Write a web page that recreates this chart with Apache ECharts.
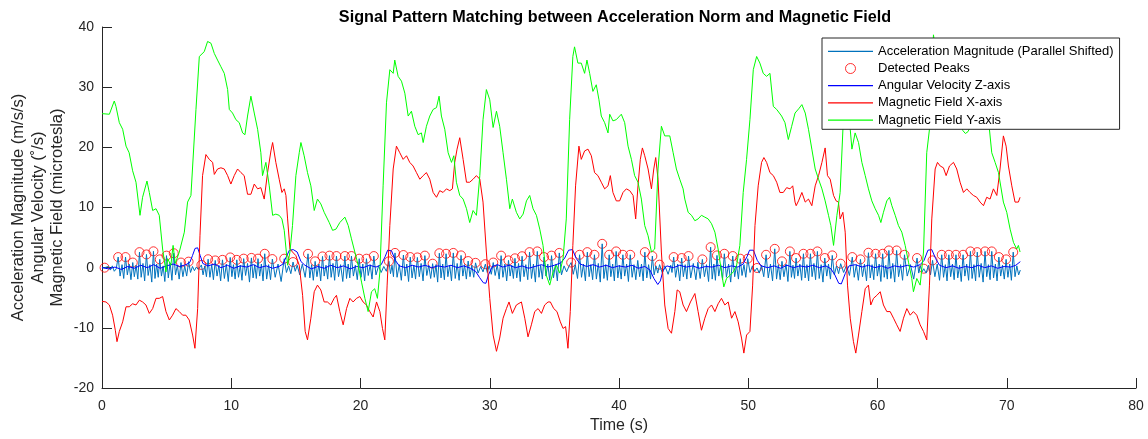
<!DOCTYPE html>
<html>
<head>
<meta charset="utf-8">
<script src="https://cdn.jsdelivr.net/npm/echarts@6/dist/echarts.min.js"></script>
<style>html,body{margin:0;padding:0;background:#fff;}#c{width:1148px;height:439px;}</style>
</head>
<body>
<div id="c"></div>
<script>
const titleText = 'Signal Pattern Matching between Acceleration Norm and Magnetic Field';
const seriesNames = ['Acceleration Magnitude (Parallel Shifted)', 'Detected Peaks', 'Angular Velocity Z-axis', 'Magnetic Field X-axis', 'Magnetic Field Y-axis'];
const xName = 'Time (s)';
const yName = 'Acceleration Magnitude (m/s/s)\nAngular Velocity (\u02DA/s)\nMagnetic Field (microtesla)';

const peaks = [
[0.2,0.0],[1.25,1.76],[1.82,1.76],[2.38,0.85],[2.9,2.58],[3.44,2.2],[3.98,2.72],[4.47,1.38],[4.99,2.0],[5.55,2.4],[6.11,0.85],[6.7,1.0],[7.69,0.45],[8.21,1.4],[8.76,1.2],[9.32,1.3],[9.92,1.7],[10.43,1.3],[10.96,1.5],[11.56,1.62],[12.07,1.5],[12.59,2.31],[13.18,1.43],[14.1,1.49],[14.78,0.93],[15.94,2.3],[16.49,1.05],[17.06,1.87],[17.6,2.0],[18.14,1.93],[18.79,1.93],[19.3,1.93],[19.9,1.49],[20.46,1.49],[21.03,1.93],[22.2,1.05],[22.67,2.45],[23.32,2.1],[23.85,1.76],[24.4,1.7],[24.98,2.0],[25.58,0.66],[26.1,2.4],[26.62,2.31],[27.18,2.45],[27.78,2.04],[28.33,1.1],[28.9,0.8],[29.66,0.58],[30.27,0.85],[30.88,2.0],[31.45,1.21],[31.95,1.55],[32.5,1.9],[33.08,2.58],[33.68,2.7],[34.2,1.76],[34.78,2.0],[35.38,2.45],[36.3,0.85],[36.95,2.14],[37.55,2.58],[38.1,2.14],[38.7,3.96],[39.24,2.14],[39.78,2.7],[40.3,2.14],[40.87,2.14],[42.0,2.58],[42.58,1.93],[43.14,0.5],[44.23,1.76],[44.85,1.6],[45.38,1.93],[46.45,1.38],[47.09,3.41],[47.58,2.04],[48.15,2.31],[48.8,1.93],[49.38,1.49],[49.96,1.49],[50.68,-0.05],[51.38,2.14],[52.05,3.13],[52.61,1.05],[53.22,2.7],[53.7,1.6],[54.27,2.31],[54.81,2.31],[55.35,2.7],[55.92,1.6],[56.5,2.04],[57.15,0.66],[58.05,1.76],[58.68,1.38],[59.3,2.48],[59.85,2.31],[60.4,2.31],[60.88,2.86],[61.48,2.86],[62.09,2.14],[63.06,1.6],[63.58,-0.17],[64.26,1.21],[64.97,2.14],[65.52,2.14],[66.07,2.14],[66.62,2.14],[67.19,2.7],[67.72,2.58],[68.32,2.7],[68.84,2.7],[69.39,1.76],[69.95,1.38],[70.5,2.58]
];

const accel = [
[0,0],[0.2,0],[0.35,-0.3],[0.5,0.2],[0.65,-0.4],[0.8,0.3],[0.95,-0.6],[1.1,-0.2],
[1.25,1.76],[1.4,-1.4],[1.55,0.5],[1.68,-1.8],[1.82,1.76],[1.96,-1.2],[2.1,0.6],[2.24,-2.0],
[2.38,0.85],[2.5,-1.5],[2.64,0.4],[2.77,-1.9],[2.9,2.58],[3.03,-1.6],[3.17,0.7],[3.3,-2.2],
[3.44,2.2],[3.57,-1.3],[3.71,0.5],[3.85,-2.4],[3.98,2.72],[4.1,-1.8],[4.23,0.6],[4.35,-1.6],
[4.47,1.38],[4.6,-1.4],[4.73,0.3],[4.86,-2.3],[4.99,2.0],[5.13,-1.7],[5.27,0.8],[5.41,-2.1],
[5.55,2.4],[5.69,-1.2],[5.83,0.4],[5.97,-1.9],[6.11,0.85],[6.26,-1.5],[6.4,0.3],[6.55,-1.4],
[6.7,1.0],[6.85,-0.8],[7.0,0.2],[7.15,-0.5],[7.3,0.1],[7.45,-0.3],[7.58,-0.6],
[7.69,0.45],[7.82,-1.2],[7.95,0.3],[8.08,-1.5],[8.21,1.4],[8.35,-1.6],[8.49,0.5],[8.62,-2.0],
[8.76,1.2],[8.9,-1.4],[9.04,0.4],[9.18,-2.2],[9.32,1.3],[9.47,-1.8],[9.62,0.6],[9.77,-2.3],
[9.92,1.7],[10.05,-1.5],[10.17,0.5],[10.3,-1.9],[10.43,1.3],[10.56,-1.6],[10.7,0.4],[10.83,-2.1],
[10.96,1.5],[11.11,-1.3],[11.26,0.7],[11.41,-2.4],[11.56,1.62],[11.69,-1.7],[11.82,0.5],[11.94,-1.8],
[12.07,1.5],[12.2,-1.4],[12.33,0.6],[12.46,-2.2],[12.59,2.31],[12.74,-1.9],[12.89,0.5],[13.04,-2.0],
[13.18,1.43],[13.4,-1.6],[13.62,0.6],[13.86,-2.3],[14.1,1.49],[14.27,-0.8],[14.44,0.3],[14.61,-1.0],
[14.78,0.93],[14.95,-0.6],[15.1,0.4],[15.3,-1.2],[15.5,0.6],[15.72,-1.6],
[15.94,2.3],[16.08,-1.7],[16.22,0.5],[16.35,-2.1],[16.49,1.05],[16.63,-1.5],[16.78,0.6],[16.92,-2.2],
[17.06,1.87],[17.19,-1.4],[17.33,0.4],[17.46,-1.9],[17.6,2.0],[17.73,-1.6],[17.87,0.7],[18.0,-2.1],
[18.14,1.93],[18.3,-1.5],[18.46,0.5],[18.63,-2.3],[18.79,1.93],[18.92,-1.8],[19.05,0.6],[19.17,-1.7],
[19.3,1.93],[19.45,-1.4],[19.6,0.4],[19.75,-2.0],[19.9,1.49],[20.04,-1.6],[20.18,0.6],[20.32,-2.2],
[20.46,1.49],[20.6,-1.3],[20.75,0.5],[20.89,-1.9],[21.03,1.93],[21.2,-1.2],[21.4,0.3],[21.6,-0.8],[21.8,0.2],[22.0,-0.6],
[22.2,1.05],[22.32,-1.0],[22.44,0.4],[22.55,-1.5],[22.67,2.45],[22.83,-1.6],[23.0,0.5],[23.16,-2.1],
[23.32,2.1],[23.45,-1.4],[23.58,0.6],[23.72,-2.3],[23.85,1.76],[23.99,-1.7],[24.13,0.4],[24.26,-1.9],
[24.4,1.7],[24.55,-1.5],[24.69,0.7],[24.84,-2.2],[24.98,2.0],[25.13,-1.3],[25.28,0.4],[25.43,-1.8],
[25.58,0.66],[25.71,-1.6],[25.84,0.5],[25.97,-2.4],[26.1,2.4],[26.23,-1.7],[26.36,0.6],[26.49,-2.0],
[26.62,2.31],[26.76,-1.5],[26.9,0.4],[27.04,-2.2],[27.18,2.45],[27.33,-1.8],[27.48,0.7],[27.63,-2.1],
[27.78,2.04],[27.92,-1.4],[28.05,0.5],[28.19,-1.9],[28.33,1.1],[28.47,-1.5],[28.61,0.4],[28.76,-1.6],
[28.9,0.8],[29.1,-0.9],[29.3,0.2],[29.48,-0.7],[29.66,0.58],[29.81,-0.8],[29.96,0.3],[30.12,-1.1],
[30.27,0.85],[30.42,-1.3],[30.58,0.5],[30.73,-1.9],[30.88,2.0],[31.02,-1.6],[31.17,0.6],[31.31,-2.2],
[31.45,1.21],[31.58,-1.4],[31.7,0.4],[31.83,-1.8],[31.95,1.55],[32.09,-1.7],[32.23,0.7],[32.36,-2.3],
[32.5,1.9],[32.65,-1.5],[32.79,0.5],[32.94,-2.0],[33.08,2.58],[33.23,-1.8],[33.38,0.6],[33.53,-2.4],
[33.68,2.7],[33.81,-1.6],[33.94,0.4],[34.07,-1.9],[34.2,1.76],[34.35,-1.4],[34.49,0.6],[34.64,-2.1],
[34.78,2.0],[34.93,-1.7],[35.08,0.5],[35.23,-2.2],[35.38,2.45],[35.55,-1.2],[35.75,0.3],[35.95,-0.7],[36.12,0.2],
[36.3,0.85],[36.46,-1.1],[36.62,0.5],[36.79,-1.8],[36.95,2.14],[37.1,-1.6],[37.25,0.6],[37.4,-2.2],
[37.55,2.58],[37.69,-1.5],[37.82,0.5],[37.96,-2.0],[38.1,2.14],[38.25,-1.9],[38.4,0.7],[38.55,-2.4],
[38.7,3.96],[38.83,-1.8],[38.97,0.5],[39.1,-2.1],[39.24,2.14],[39.37,-1.5],[39.51,0.6],[39.64,-2.2],
[39.78,2.7],[39.91,-1.7],[40.04,0.4],[40.17,-1.9],[40.3,2.14],[40.44,-1.4],[40.59,0.6],[40.73,-2.3],
[40.87,2.14],[41.02,-1.6],[41.16,0.5],[41.3,-2.0],[41.45,1.2],[41.6,-1.5],[41.74,0.6],[41.87,-2.2],
[42.0,2.58],[42.15,-1.7],[42.29,0.5],[42.44,-1.9],[42.58,1.93],[42.72,-1.2],[42.86,0.3],[43.0,-0.9],
[43.14,0.5],[43.35,-0.9],[43.55,0.3],[43.8,-1.1],[44.0,0.4],[44.1,-0.8],
[44.23,1.76],[44.38,-1.6],[44.54,0.6],[44.7,-2.2],[44.85,1.6],[44.98,-1.5],[45.12,0.5],[45.25,-1.9],
[45.38,1.93],[45.55,-1.7],[45.75,0.7],[45.95,-2.0],[46.1,0.9],[46.28,-1.8],
[46.45,1.38],[46.61,-1.5],[46.77,0.5],[46.93,-2.3],[47.09,3.41],[47.21,-1.9],[47.34,0.6],[47.46,-2.1],
[47.58,2.04],[47.72,-1.4],[47.87,0.5],[48.01,-2.0],[48.15,2.31],[48.31,-1.6],[48.48,0.6],[48.64,-2.4],
[48.8,1.93],[48.95,-1.5],[49.09,0.4],[49.24,-1.9],[49.38,1.49],[49.52,-1.3],[49.67,0.5],[49.81,-1.6],
[49.96,1.49],[50.14,-0.8],[50.32,0.3],[50.5,-0.6],[50.68,-0.05],[50.85,-0.9],[51.03,0.4],[51.2,-1.5],
[51.38,2.14],[51.55,-1.7],[51.72,0.6],[51.88,-2.2],[52.05,3.13],[52.19,-1.9],[52.33,0.5],[52.47,-2.0],
[52.61,1.05],[52.76,-1.5],[52.92,0.6],[53.07,-2.3],[53.22,2.7],[53.34,-1.6],[53.46,0.4],[53.58,-1.8],
[53.7,1.6],[53.84,-1.4],[53.99,0.6],[54.13,-2.1],[54.27,2.31],[54.4,-1.7],[54.54,0.5],[54.67,-2.2],
[54.81,2.31],[54.94,-1.5],[55.08,0.7],[55.21,-2.0],[55.35,2.7],[55.49,-1.8],[55.64,0.5],[55.78,-2.4],
[55.92,1.6],[56.07,-1.4],[56.21,0.6],[56.36,-1.9],[56.5,2.04],[56.66,-1.2],[56.83,0.3],[56.99,-1.0],
[57.15,0.66],[57.38,-0.8],[57.6,0.4],[57.83,-1.3],[58.05,1.76],[58.2,-1.6],[58.36,0.5],[58.52,-2.1],
[58.68,1.38],[58.84,-1.5],[58.99,0.6],[59.15,-2.2],[59.3,2.48],[59.44,-1.7],[59.58,0.5],[59.71,-2.0],
[59.85,2.31],[59.99,-1.4],[60.13,0.6],[60.26,-2.3],[60.4,2.31],[60.52,-1.6],[60.64,0.4],[60.76,-1.9],
[60.88,2.86],[61.03,-1.8],[61.18,0.7],[61.33,-2.4],[61.48,2.86],[61.63,-1.5],[61.79,0.5],[61.94,-2.1],
[62.09,2.14],[62.3,-1.4],[62.55,0.5],[62.8,-1.9],[63.06,1.6],[63.19,-0.9],[63.32,0.3],[63.45,-0.7],
[63.58,-0.17],[63.76,-0.9],[63.94,0.4],[64.1,-1.2],[64.26,1.21],[64.44,-1.5],[64.62,0.6],[64.8,-2.1],
[64.97,2.14],[65.11,-1.6],[65.25,0.5],[65.38,-2.2],[65.52,2.14],[65.66,-1.5],[65.8,0.6],[65.93,-2.0],
[66.07,2.14],[66.21,-1.7],[66.35,0.4],[66.48,-2.3],[66.62,2.14],[66.76,-1.4],[66.9,0.6],[67.05,-2.1],
[67.19,2.7],[67.32,-1.8],[67.46,0.5],[67.59,-2.2],[67.72,2.58],[67.87,-1.6],[68.02,0.7],[68.17,-2.4],
[68.32,2.7],[68.45,-1.5],[68.58,0.5],[68.71,-2.0],[68.84,2.7],[68.98,-1.7],[69.12,0.6],[69.25,-2.2],
[69.39,1.76],[69.53,-1.4],[69.67,0.4],[69.81,-1.9],[69.95,1.38],[70.09,-1.6],[70.23,0.6],[70.36,-2.1],
[70.5,2.58],[70.64,-1.5],[70.78,0.3],[70.92,-1.2],[71.05,-0.4]
];

const gyroZ = [
[0,0],[0.5,-0.2],[1,0.1],[1.5,-0.3],[2,0.2],[2.5,-0.1],[3,0.4],[3.5,0],[4,0.5],[4.5,-0.1],[5,0.3],[5.5,0.6],[6,0.2],[6.5,0.5],[6.8,0.9],[7.0,2.0],[7.2,3.2],[7.4,3.3],[7.6,2.0],[7.8,0.7],[8.2,0.3],[8.7,0.6],[9.2,0],[9.7,0.4],[10.2,-0.1],[10.7,0.3],[11.2,0.1],[11.7,0.5],[12.2,0],[12.7,0.3],[13.2,-0.1],[13.7,0.2],[14.0,0.6],[14.3,2.0],[14.5,2.9],[14.8,3.0],[15.1,2.6],[15.4,1.0],[15.7,0.4],[16.2,-0.2],[16.7,0.2],[17.2,-0.1],[17.7,0.4],[18.2,0],[18.7,0.3],[19.2,-0.2],[19.7,0.2],[20.2,0],[20.7,0.4],[21.2,0.1],[21.6,0.5],[21.9,1.8],[22.1,2.9],[22.4,2.8],[22.7,1.2],[23.0,0.3],[23.5,0],[24,0.4],[24.5,0.1],[25,0.4],[25.5,0],[26,0.3],[26.5,0.1],[27,0.4],[27.5,0],[28,0.3],[28.5,-0.1],[28.9,-0.6],[29.2,-1.6],[29.5,-2.5],[29.7,-2.6],[29.9,-1.2],[30.2,0.2],[30.6,0.5],[31,0.1],[31.5,0.4],[32,0],[32.5,0.3],[33,-0.1],[33.5,0.2],[34,0.5],[34.5,0.1],[35,0.4],[35.5,0.8],[35.8,1.6],[36.1,2.9],[36.4,3.0],[36.7,1.5],[37,0.6],[37.5,0.2],[38,0.5],[38.5,0.1],[39,0.4],[39.5,0],[40,0.3],[40.5,0.1],[41,0.4],[41.5,-0.1],[42,0.2],[42.4,-0.4],[42.7,-1.8],[43.0,-2.8],[43.2,-2.2],[43.4,-0.5],[43.7,0.3],[44.2,0],[44.7,0.4],[45.2,0.1],[45.7,0.3],[46.2,-0.1],[46.7,0.2],[47.2,0.1],[47.7,0.4],[48.2,0],[48.7,0.3],[49.2,0.1],[49.6,0.6],[49.9,1.8],[50.1,2.9],[50.4,2.9],[50.7,1.2],[51,0.3],[51.5,0],[52,0.3],[52.5,-0.1],[53,0.4],[53.5,0],[54,0.3],[54.5,0.1],[55,0.4],[55.5,0],[56,0.3],[56.4,-0.2],[56.7,-1.2],[57,-2.6],[57.2,-2.7],[57.5,-1],[57.8,0.3],[58.3,0.5],[58.8,0.1],[59.3,0.4],[59.8,0],[60.3,0.3],[60.8,-0.1],[61.3,0.3],[61.8,0.1],[62.3,0.4],[62.8,0.1],[63.3,0.5],[63.6,1.2],[63.9,2.9],[64.2,3.0],[64.5,1.5],[64.8,0.4],[65.3,0],[65.8,0.3],[66.3,-0.1],[66.8,0.2],[67.3,0],[67.8,0.4],[68.3,0],[68.8,0.3],[69.3,-0.1],[69.8,0.2],[70.3,0.1],[70.7,0.4],[71.05,1.0]
];

const magX = [
[0,-5.6],[0.31,-5.7],[0.57,-6.2],[0.82,-7.9],[1.03,-10.4],[1.16,-12.3],[1.34,-10.6],[1.6,-9],[1.86,-6.5],[2.11,-6.5],[2.37,-6],[2.63,-6.2],[2.89,-5.4],[3.14,-5.7],[3.4,-6.2],[3.66,-7.6],[3.92,-6.8],[4.18,-5.1],[4.43,-5.1],[4.69,-4.8],[4.95,-7.3],[5.21,-8.7],[5.46,-7.9],[5.72,-6.8],[5.98,-7.3],[6.24,-7.9],[6.49,-7.9],[6.75,-8.7],[7.01,-11.2],[7.19,-13.4],[7.4,-6.8],[7.58,5.3],[7.78,15.3],[8.04,18.8],[8.3,18],[8.56,17.5],[8.69,15.5],[8.94,16.4],[9.2,16.6],[9.46,16.4],[9.72,15.3],[9.97,13.9],[10.23,15.3],[10.49,16.4],[10.75,15.8],[11,15.3],[11.26,12.2],[11.52,12.2],[11.78,13.9],[12.04,13.1],[12.29,13.3],[12.55,11.4],[12.81,15.8],[13.07,19.4],[13.2,20.8],[13.45,17.5],[13.71,14.7],[13.92,12.5],[14.1,13.1],[14.23,12],[14.36,8.1],[14.54,3.1],[14.74,2.6],[15,2],[15.26,0.4],[15.52,-4.6],[15.72,-10.6],[15.9,-12],[16.16,-8.4],[16.42,-4],[16.67,-2.9],[16.93,-3.7],[17.19,-5.7],[17.44,-5.7],[17.7,-6.2],[17.96,-5.1],[18.14,-4.6],[18.4,-7.3],[18.66,-9.5],[18.92,-6.8],[19.18,-5.1],[19.43,-5.7],[19.69,-5.1],[19.95,-4.8],[20.2,-5.7],[20.46,-6.2],[20.72,-7.3],[20.98,-8.2],[21.24,-5.7],[21.5,-7.3],[21.7,-10.1],[21.88,-12],[22.06,-2.9],[22.27,7],[22.53,16.4],[22.78,20.2],[23.04,19.1],[23.3,18],[23.56,18.6],[23.81,17.5],[24.07,16.9],[24.33,15.8],[24.59,14.7],[24.85,15.3],[25.1,15.8],[25.36,14.7],[25.62,12.5],[25.88,11.7],[26.13,12.8],[26.39,12.5],[26.65,13.1],[26.91,12.8],[27.11,13.1],[27.29,17.5],[27.47,19.7],[27.68,21.6],[27.94,18],[28.2,14.2],[28.45,14.2],[28.71,14.7],[28.97,15.3],[29.23,14.7],[29.48,10.9],[29.74,2.6],[30,-5.1],[30.26,-11.2],[30.52,-13.9],[30.77,-11.7],[31.03,-8.4],[31.29,-6.8],[31.49,-5.7],[31.75,-7.6],[32.06,-6.2],[32.45,-5.7],[32.71,-8.4],[32.96,-11.5],[33.22,-9.5],[33.48,-7.3],[33.74,-6.8],[34,-7.6],[34.25,-6.2],[34.51,-5.7],[34.69,-5.7],[34.95,-6.8],[35.2,-7.3],[35.46,-9],[35.67,-10.1],[35.87,-9.8],[36.05,-13.4],[36.23,-7.3],[36.43,3.7],[36.64,13.6],[36.9,20.2],[37.08,18],[37.34,19.4],[37.6,19.7],[37.86,18.6],[38.11,15.8],[38.37,15.3],[38.63,14.2],[38.89,13.1],[39.15,13.6],[39.33,15.3],[39.53,12.5],[39.79,11.1],[40.05,11.1],[40.31,12.5],[40.57,13.1],[40.83,12.8],[41.09,12],[41.29,8.1],[41.47,13.6],[41.65,18],[41.81,19.9],[41.99,18.6],[42.25,16.4],[42.51,13.1],[42.69,16.4],[42.84,18.3],[43.02,14.7],[43.28,2.6],[43.54,-6.2],[43.8,-10.1],[44.06,-10.9],[44.32,-7.3],[44.5,-3.7],[44.7,-4],[44.96,-6.2],[45.22,-7.3],[45.53,-5.7],[45.87,-4.3],[46.12,-7.3],[46.38,-10.4],[46.64,-8.4],[46.9,-6.8],[47.16,-6.2],[47.42,-7.3],[47.67,-6],[47.93,-5.1],[48.19,-6.2],[48.45,-5.7],[48.71,-8.4],[48.97,-7.3],[49.22,-9],[49.48,-11.7],[49.66,-14.2],[49.87,-11.2],[50.13,-10.6],[50.34,-2.9],[50.52,7],[50.77,13.6],[51.03,17.5],[51.21,18.3],[51.42,17.5],[51.68,15.8],[51.94,15.3],[52.2,14.2],[52.45,12.5],[52.71,12.5],[52.97,13.3],[53.23,13.1],[53.44,13.6],[53.62,10.9],[53.71,10.3],[53.89,11.1],[54.15,12.5],[54.41,10.9],[54.66,11.4],[54.92,10.3],[55.18,13.6],[55.44,15.3],[55.7,17.5],[55.95,19.9],[56.13,15.3],[56.34,14.7],[56.6,12],[56.8,11.1],[56.98,10.9],[57.11,8.1],[57.32,9.2],[57.5,5.9],[57.68,-2.9],[57.89,-8.4],[58.14,-12.3],[58.32,-14.2],[58.53,-11.2],[58.79,-7.3],[59.05,-3.5],[59.3,-2.9],[59.48,-6.2],[59.69,-5.1],[59.95,-4.6],[60.21,-4],[60.46,-6.2],[60.72,-7.3],[60.98,-7.3],[61.24,-8.4],[61.49,-9.5],[61.75,-10.6],[62.01,-8.4],[62.27,-6.8],[62.53,-7.9],[62.78,-7.3],[63.04,-7.9],[63.3,-9.5],[63.56,-10.6],[63.81,-12],[64.02,-2.9],[64.2,8.1],[64.46,16.4],[64.64,17.5],[64.85,16.9],[65.1,16.6],[65.31,15.3],[65.57,16.9],[65.88,17.5],[66.13,16.4],[66.39,14.2],[66.65,12.5],[66.91,13.1],[67.16,12.5],[67.42,12],[67.68,11.7],[67.94,10.9],[68.2,10.3],[68.45,11.7],[68.71,11.4],[68.97,13.1],[69.23,12],[69.48,16.4],[69.74,21.9],[69.95,20.2],[70.13,16.9],[70.39,13.6],[70.64,10.9],[70.9,10.9],[71.03,11.7]
];

const magY = [
[0,25.6],[0.57,25.5],[0.95,27.7],[1.08,26.8],[1.34,24.1],[1.6,23],[1.86,20.2],[2.1,19.1],[2.37,16.1],[2.63,14.2],[2.94,8.7],[3.14,11.7],[3.48,14.4],[3.66,12.5],[3.92,9.5],[4.18,9.8],[4.43,8.7],[4.69,3.1],[4.95,-0.7],[5.08,1.5],[5.33,0.4],[5.5,3.7],[5.67,0.7],[5.98,2.6],[6.37,5.9],[6.62,10.9],[6.88,12],[7.27,26.3],[7.53,35.1],[7.91,35.9],[8.17,37.6],[8.43,37.3],[8.69,35.6],[8.94,34.5],[9.2,33.4],[9.46,32.3],[9.72,29.6],[9.85,26.3],[10.1,25.7],[10.36,24.6],[10.62,24.1],[10.88,22.4],[11.06,22.1],[11.26,25.2],[11.52,28.5],[11.78,25.7],[12.04,23],[12.29,19.1],[12.42,15.3],[12.68,17.5],[12.94,13.6],[13.2,8.7],[13.45,8.9],[13.71,8.7],[13.92,8.1],[14.1,6.2],[14.36,0.4],[14.54,2.6],[14.74,7],[15,15.3],[15.26,19.1],[15.39,20.8],[15.64,18.6],[15.9,15.8],[16.16,13.6],[16.42,9.5],[16.67,11.4],[16.93,10.6],[17.19,9.2],[17.58,7.5],[17.84,6.2],[18.1,6.4],[18.4,7.5],[18.79,8.4],[19.05,7],[19.3,4.8],[19.56,2.6],[19.82,0.4],[20.08,-2.4],[20.34,-5.1],[20.59,-7.3],[20.85,-4],[21.1,-3.5],[21.31,-5.1],[21.5,-0.7],[21.75,13.6],[22.01,27.4],[22.27,32.9],[22.53,32.3],[22.65,34.5],[22.91,31.8],[23.17,31],[23.43,29],[23.69,25.2],[23.94,26],[24.2,23.5],[24.46,22.1],[24.71,22.4],[24.85,20.8],[25.1,23.5],[25.36,25.2],[25.62,26.3],[25.88,26.6],[26.08,28.5],[26.26,25.2],[26.52,23],[26.78,19.1],[27.04,17.5],[27.22,18.6],[27.42,14.2],[27.68,12],[27.94,11.4],[28.2,9.8],[28.45,7.5],[28.71,9.5],[28.97,8.7],[29.23,15.3],[29.48,24.6],[29.74,29.6],[30,27.9],[30.26,23.3],[30.52,26],[30.77,23.5],[31.03,19.1],[31.29,14.7],[31.55,9.8],[31.75,11.4],[32.06,9.2],[32.32,8.1],[32.58,8.9],[32.84,11.1],[33.09,12],[33.35,9.8],[33.61,8.7],[33.87,6.4],[34.12,3.7],[34.38,-1.3],[34.64,-2.9],[34.9,-0.7],[35.15,0.4],[35.41,-0.9],[35.67,1.5],[35.92,8.1],[36.18,24.6],[36.43,35.1],[36.56,36.7],[36.82,34],[37.08,34],[37.34,32.3],[37.52,34.5],[37.73,32.3],[37.98,29.3],[38.24,30.4],[38.45,27.9],[38.63,25.2],[38.89,24.1],[39.15,22.4],[39.28,25.5],[39.53,24.4],[39.79,24.6],[40.18,25.5],[40.44,24.1],[40.7,20.2],[40.96,18],[41.21,15.3],[41.47,14.2],[41.73,11.4],[41.99,7],[42.25,5.3],[42.51,2.6],[42.76,3.1],[43.02,16.4],[43.28,23.5],[43.54,21.9],[43.93,21.9],[44.19,19.1],[44.44,16.4],[44.7,14.7],[44.96,13.1],[45.09,11.4],[45.35,9.2],[45.61,8.7],[45.87,7.8],[46.12,8.1],[46.38,8.7],[46.64,8.4],[46.9,8.1],[47.16,7.3],[47.42,5.9],[47.67,3.1],[47.93,-0.7],[48.11,-3.2],[48.32,-1.8],[48.58,-1.3],[48.84,-0.7],[49.1,0.4],[49.35,3.7],[49.61,12.5],[49.87,18],[50.13,24.6],[50.39,32.9],[50.65,35.1],[50.9,34],[51.16,32.3],[51.42,31.8],[51.68,32.3],[51.94,26.8],[52.2,26.3],[52.58,25.2],[52.84,24.1],[53.1,21.3],[53.36,23.5],[53.62,25.7],[53.9,26.4],[54.15,27.1],[54.41,25.7],[54.66,23],[54.92,19.7],[55.18,16.4],[55.44,14.7],[55.7,13.1],[55.95,11.1],[56.21,8.7],[56.39,7],[56.6,3.7],[56.86,8.7],[57.11,12.5],[57.37,25.2],[57.55,33],[57.72,30],[57.89,23],[58.02,19.7],[58.27,22.4],[58.53,20.8],[58.79,17.5],[59.05,15.3],[59.3,13.1],[59.56,11.1],[59.82,9.8],[60.08,8.7],[60.26,7.5],[60.46,9.2],[60.72,11.1],[60.93,11.7],[61.11,10.3],[61.37,8.7],[61.62,7],[61.88,5.9],[62.14,3.7],[62.4,0.9],[62.65,-1.8],[62.78,-4],[63.04,-1.8],[63.3,-2.9],[63.56,2.6],[63.81,19.1],[64.02,23],[64.2,33],[64.33,38.7],[64.5,36],[64.8,33],[65.2,31],[65.6,29],[66.0,27],[66.3,25],[66.6,22.8],[66.8,22.3],[67.0,22.6],[67.2,23.5],[67.6,25],[68.0,26],[68.3,24.5],[68.66,23],[68.84,19.1],[69.1,17.5],[69.36,15.8],[69.74,10.9],[70,9.2],[70.26,6.4],[70.52,4.2],[70.77,3.1],[70.9,3.7],[71.03,2.6]
];

const xTicks = {min: 0, max: 80, interval: 10};
const yTicks = {min: -20, max: 40, interval: 10};

const FONT = 'Liberation Sans, Arial, Helvetica, sans-serif';
const AXIS_COLOR = '#262626';
const LINE_ICON = 'path://M0,0H45V1.2H0Z';

const chart = echarts.init(document.getElementById('c'), null, {renderer: 'canvas'});
const lineSeries = (name, data, color) => ({
  name, type: 'line', data, symbol: 'none', showSymbol: false,
  lineStyle: {color, width: 1}, itemStyle: {color},
  emphasis: {disabled: true}, animation: false
});
chart.setOption({
  animation: false,
  backgroundColor: '#ffffff',
  title: {
    text: titleText, left: 610, top: 5, textAlign: 'center',
    textStyle: {fontFamily: FONT, fontSize: 16.2, fontWeight: 'bold', color: '#000'}
  },
  legend: {
    orient: 'vertical', left: 822, top: 38,
    padding: [6.8, 6, 2.7, 6],
    itemWidth: 45, itemHeight: 10, itemGap: 4.2,
    symbolKeepAspect: true,
    backgroundColor: '#fff', borderColor: AXIS_COLOR, borderWidth: 1,
    textStyle: {fontFamily: FONT, fontSize: 13, color: '#000'},
    data: [
      {name: seriesNames[0], icon: LINE_ICON},
      {name: seriesNames[1], icon: 'circle', itemStyle: {color: 'rgba(255,0,0,0)', borderColor: '#ff0000', borderWidth: 1}},
      {name: seriesNames[2], icon: LINE_ICON},
      {name: seriesNames[3], icon: LINE_ICON},
      {name: seriesNames[4], icon: LINE_ICON}
    ]
  },
  grid: {left: 102, right: 12, top: 27, bottom: 51, containLabel: false, outerBoundsMode: 'none'},
  xAxis: {
    type: 'value', min: xTicks.min, max: xTicks.max, interval: xTicks.interval,
    name: xName, nameLocation: 'middle', nameGap: 30, nameMoveOverlap: false,
    nameTextStyle: {fontFamily: FONT, fontSize: 16, color: AXIS_COLOR},
    axisLine: {show: true, onZero: false, lineStyle: {color: AXIS_COLOR, width: 1}},
    axisTick: {show: true, inside: true, length: 10, lineStyle: {color: AXIS_COLOR}},
    axisLabel: {fontFamily: FONT, fontSize: 14, color: AXIS_COLOR, margin: 11.5},
    splitLine: {show: false}
  },
  yAxis: {
    type: 'value', min: yTicks.min, max: yTicks.max, interval: yTicks.interval,
    name: yName, nameLocation: 'middle', nameGap: 35, nameRotate: 90, nameMoveOverlap: false,
    nameTextStyle: {fontFamily: FONT, fontSize: 16.5, color: AXIS_COLOR, lineHeight: 19.3},
    axisLine: {show: true, onZero: false, lineStyle: {color: AXIS_COLOR, width: 1}},
    axisTick: {show: true, inside: true, length: 10, lineStyle: {color: AXIS_COLOR}},
    axisLabel: {fontFamily: FONT, fontSize: 14, color: AXIS_COLOR, margin: 8},
    splitLine: {show: false}
  },
  series: [
    lineSeries(seriesNames[0], accel, '#0072BD'),
    {
      name: seriesNames[1], type: 'scatter', data: peaks,
      symbol: 'circle', symbolSize: 9,
      itemStyle: {color: 'rgba(255,0,0,0)', borderColor: '#ff0000', borderWidth: 1},
      emphasis: {disabled: true}, animation: false
    },
    lineSeries(seriesNames[2], gyroZ, '#0000FF'),
    lineSeries(seriesNames[3], magX, '#FF0000'),
    lineSeries(seriesNames[4], magY, '#00FF00')
  ]
});
</script>
</body>
</html>
